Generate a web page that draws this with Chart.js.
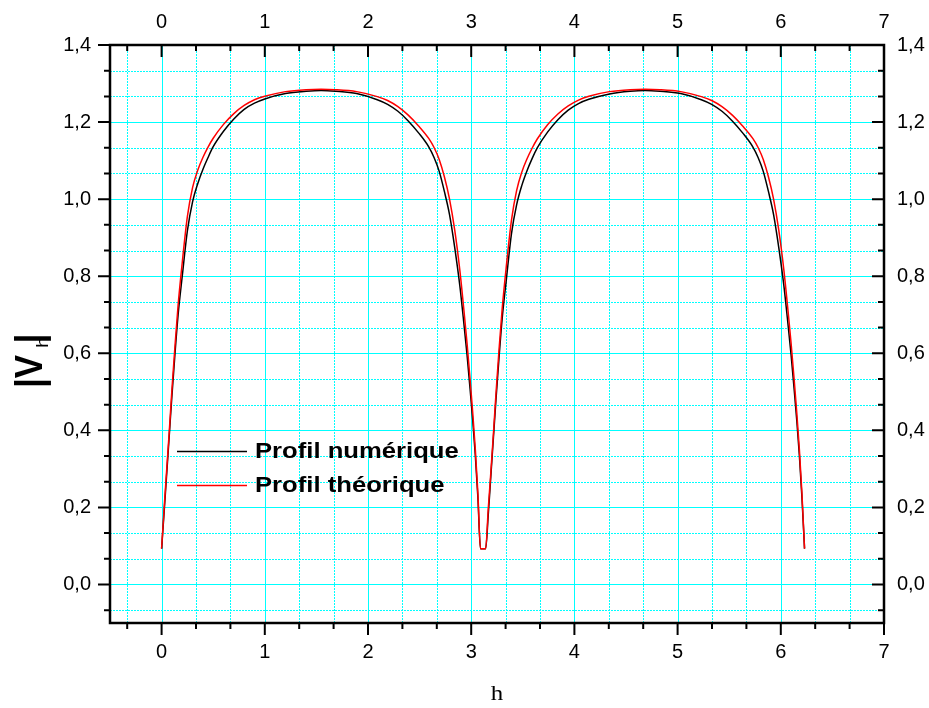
<!DOCTYPE html>
<html>
<head>
<meta charset="utf-8">
<script src="https://cdn.jsdelivr.net/npm/chart.js@4.4.0/dist/chart.umd.min.js"></script>
<style>
  html, body { margin: 0; padding: 0; background: #ffffff; }
  #wrap { width: 929px; height: 708px; }
</style>
</head>
<body>
<div id="wrap"><canvas id="chart" width="929" height="708"></canvas></div>
<script>
// Abscissa h of every sample (two humps, flat bottom between 3.09 and 3.14)
const hValues = [
  0, 0.025, 0.05, 0.075, 0.1, 0.13, 0.16, 0.2, 0.25, 0.3, 0.35, 0.4, 0.45, 0.5, 0.6, 0.7, 0.8, 0.9, 1.0, 1.2, 1.4, 1.545,
  1.69, 1.89, 2.09, 2.19, 2.29, 2.39, 2.49, 2.59, 2.64, 2.69, 2.74, 2.79, 2.84, 2.89, 2.93, 2.96, 2.99, 3.015, 3.04, 3.065, 3.09,
  3.14, 3.165, 3.19, 3.215, 3.24, 3.27, 3.30, 3.34, 3.39, 3.44, 3.49, 3.54, 3.59, 3.64, 3.74, 3.84, 3.94, 4.04, 4.14, 4.34, 4.54, 4.685,
  4.83, 5.03, 5.23, 5.33, 5.43, 5.53, 5.63, 5.73, 5.78, 5.83, 5.88, 5.93, 5.98, 6.03, 6.07, 6.10, 6.13, 6.155, 6.18, 6.205, 6.23
];

// |V_h| from the numerical solution
const profilNumerique = [
  0.093, 0.19, 0.29, 0.39, 0.49, 0.60, 0.70, 0.80, 0.918, 0.993, 1.040, 1.077, 1.108, 1.136, 1.176, 1.208, 1.233, 1.249, 1.260, 1.274, 1.280, 1.282,
  1.280, 1.274, 1.258, 1.246, 1.228, 1.203, 1.172, 1.135, 1.108, 1.072, 1.020, 0.960, 0.875, 0.775, 0.675, 0.595, 0.505, 0.425, 0.335, 0.225, 0.093,
  0.093, 0.18, 0.28, 0.38, 0.48, 0.59, 0.69, 0.79, 0.91, 0.985, 1.035, 1.073, 1.105, 1.133, 1.174, 1.206, 1.231, 1.248, 1.259, 1.273, 1.280, 1.282,
  1.280, 1.274, 1.258, 1.246, 1.228, 1.203, 1.172, 1.135, 1.108, 1.072, 1.020, 0.960, 0.875, 0.775, 0.675, 0.595, 0.505, 0.425, 0.335, 0.225, 0.093
];

// |V_h| from the theoretical profile
const profilTheorique = [
  0.093, 0.20, 0.30, 0.40, 0.505, 0.62, 0.725, 0.835, 0.955, 1.030, 1.075, 1.108, 1.135, 1.158, 1.194, 1.222, 1.243, 1.258, 1.267, 1.279, 1.284, 1.285,
  1.284, 1.279, 1.266, 1.256, 1.240, 1.218, 1.190, 1.157, 1.134, 1.103, 1.058, 1.000, 0.920, 0.815, 0.710, 0.625, 0.530, 0.445, 0.350, 0.235, 0.093,
  0.093, 0.195, 0.29, 0.39, 0.495, 0.61, 0.715, 0.825, 0.945, 1.022, 1.070, 1.104, 1.132, 1.156, 1.193, 1.221, 1.242, 1.257, 1.267, 1.279, 1.284, 1.285,
  1.284, 1.279, 1.266, 1.256, 1.240, 1.218, 1.190, 1.157, 1.134, 1.103, 1.058, 1.000, 0.920, 0.815, 0.710, 0.625, 0.530, 0.445, 0.350, 0.235, 0.093
];

const seriesNames = ['Profil numérique', 'Profil théorique'];
const seriesColors = ['#000000', '#ff0000'];
const xTickValues = [0, 1, 2, 3, 4, 5, 6, 7];
const yTickValues = [0, 0.2, 0.4, 0.6, 0.8, 1.0, 1.2, 1.4];
const xTitle = 'h';

const X_MIN = -0.5, X_MAX = 7, Y_MIN = -0.1, Y_MAX = 1.4;
const TICK_FONT = { family: '"Liberation Sans", Arial, sans-serif', size: 20 };

function toPoints(values) {
  return hValues.map((h, i) => ({ x: h, y: values[i] }));
}

function minorValues(majors, min, max, parts) {
  const major = majors[1] - majors[0];
  const out = [];
  for (let m = majors[0] - major; m <= majors[majors.length - 1] + 1e-9; m += major) {
    for (let k = 1; k < parts; k++) {
      const v = m + k * major / parts;
      if (v > min + 1e-9 && v < max - 1e-9) out.push(v);
    }
  }
  return out;
}

const fmtY = v => v.toFixed(1).replace('.', ',');
const fmtX = v => String(Math.round(v));

function axisCommon(min, max, values, fmt, fitFn, pad) {
  return {
    type: 'linear', min: min, max: max,
    afterBuildTicks: s => { s.ticks = values.map(v => ({ value: v })); },
    afterFit: fitFn,
    grid: { display: false, drawTicks: false },
    border: { display: false },
    ticks: {
      font: TICK_FONT, color: '#000000', padding: pad,
      autoSkip: false, maxRotation: 0, minRotation: 0,
      callback: v => fmt(v)
    }
  };
}

// Cyan grid, black frame with Origin-style ticks, legend and axis titles
const framePlugin = {
  id: 'originFrame',
  beforeDatasetsDraw(chart) {
    const { ctx, chartArea: a } = chart;
    const sx = chart.scales.x, sy = chart.scales.y;
    ctx.save();
    ctx.strokeStyle = '#00ffff';
    ctx.lineWidth = 1;
    ctx.setLineDash([2, 1]);
    minorValues(xTickValues, X_MIN, X_MAX, 3).forEach(v => {
      const p = Math.round(sx.getPixelForValue(v)) + 0.5;
      ctx.beginPath(); ctx.moveTo(p, a.top); ctx.lineTo(p, a.bottom); ctx.stroke();
    });
    minorValues(yTickValues, Y_MIN, Y_MAX, 3).forEach(v => {
      const p = Math.round(sy.getPixelForValue(v)) + 0.5;
      ctx.beginPath(); ctx.moveTo(a.left, p); ctx.lineTo(a.right, p); ctx.stroke();
    });
    ctx.setLineDash([]);
    xTickValues.forEach(v => {
      const p = Math.round(sx.getPixelForValue(v)) + 0.5;
      ctx.beginPath(); ctx.moveTo(p, a.top); ctx.lineTo(p, a.bottom); ctx.stroke();
    });
    yTickValues.forEach(v => {
      const p = Math.round(sy.getPixelForValue(v)) + 0.5;
      ctx.beginPath(); ctx.moveTo(a.left, p); ctx.lineTo(a.right, p); ctx.stroke();
    });
    ctx.restore();
  },
  afterDatasetsDraw(chart) {
    const { ctx, chartArea: a } = chart;
    const sx = chart.scales.x, sy = chart.scales.y;
    ctx.save();
    ctx.strokeStyle = '#000000';
    ctx.lineWidth = 2;
    const MAJ = 12, MIN = 6;
    xTickValues.forEach(v => {
      const p = sx.getPixelForValue(v);
      ctx.beginPath();
      ctx.moveTo(p, a.bottom); ctx.lineTo(p, a.bottom + MAJ);
      ctx.moveTo(p, a.top); ctx.lineTo(p, a.top + MAJ);
      ctx.stroke();
    });
    minorValues(xTickValues, X_MIN, X_MAX, 3).forEach(v => {
      const p = sx.getPixelForValue(v);
      ctx.beginPath();
      ctx.moveTo(p, a.bottom); ctx.lineTo(p, a.bottom + MIN);
      ctx.moveTo(p, a.top); ctx.lineTo(p, a.top + MIN);
      ctx.stroke();
    });
    yTickValues.forEach(v => {
      const p = sy.getPixelForValue(v);
      ctx.beginPath();
      ctx.moveTo(a.left - MAJ, p); ctx.lineTo(a.left, p);
      ctx.moveTo(a.right - MAJ, p); ctx.lineTo(a.right, p);
      ctx.stroke();
    });
    minorValues(yTickValues, Y_MIN, Y_MAX, 3).forEach(v => {
      const p = sy.getPixelForValue(v);
      ctx.beginPath();
      ctx.moveTo(a.left - MIN, p); ctx.lineTo(a.left, p);
      ctx.moveTo(a.right - MIN, p); ctx.lineTo(a.right, p);
      ctx.stroke();
    });
    ctx.lineWidth = 2.5;
    ctx.strokeRect(a.left, a.top, a.right - a.left, a.bottom - a.top);

    // legend
    const legendRows = [451, 485];
    chart.data.datasets.forEach((ds, i) => {
      const y = legendRows[i];
      ctx.strokeStyle = ds.borderColor;
      ctx.lineWidth = 1.5;
      ctx.beginPath(); ctx.moveTo(177, y + 0.5); ctx.lineTo(247, y + 0.5); ctx.stroke();
      ctx.save();
      ctx.translate(255, y + 6.5);
      ctx.scale(1.14, 1);
      ctx.fillStyle = '#000000';
      ctx.font = 'bold 22.5px "Liberation Sans", Arial, sans-serif';
      ctx.textBaseline = 'alphabetic';
      ctx.fillText(ds.label, 0, 0);
      ctx.restore();
    });

    // x title
    ctx.save();
    ctx.translate((a.left + a.right) / 2, 700);
    ctx.scale(1.13, 1);
    ctx.fillStyle = '#000000';
    ctx.font = '22px "Liberation Serif", "Times New Roman", serif';
    ctx.textAlign = 'center';
    ctx.textBaseline = 'alphabetic';
    ctx.fillText(xTitle, 0, 0);
    ctx.restore();

    // y title |V_h|
    ctx.save();
    ctx.translate(42, 388);
    ctx.rotate(-Math.PI / 2);
    ctx.scale(1, 1.13);
    ctx.fillStyle = '#000000';
    ctx.textBaseline = 'alphabetic';
    ctx.font = 'bold 35px "Liberation Sans", Arial, sans-serif';
    ctx.fillText('|V', 0, 0);
    ctx.fillText('|', 44.6, 0);
    ctx.save();
    ctx.translate(40, 5.3);
    ctx.scale(1.5, 1);
    ctx.font = '14px "Liberation Sans", Arial, sans-serif';
    ctx.fillText('h', 0, 0);
    ctx.restore();
    ctx.restore();

    ctx.restore();
  }
};

new Chart(document.getElementById('chart'), {
  type: 'line',
  data: {
    datasets: [
      {
        label: seriesNames[0], data: toPoints(profilNumerique),
        borderColor: seriesColors[0], borderWidth: 1.5, pointRadius: 0,
        cubicInterpolationMode: 'monotone', fill: false, order: 1
      },
      {
        label: seriesNames[1], data: toPoints(profilTheorique),
        borderColor: seriesColors[1], borderWidth: 1.5, pointRadius: 0,
        cubicInterpolationMode: 'monotone', fill: false, order: 0
      }
    ]
  },
  options: {
    responsive: false,
    animation: false,
    devicePixelRatio: 1,
    events: [],
    layout: { padding: 0 },
    plugins: { legend: { display: false }, tooltip: { enabled: false } },
    scales: {
      x: Object.assign(axisCommon(X_MIN, X_MAX, xTickValues, fmtX, s => { s.height = 85; }, 17), { position: 'bottom' }),
      x2: Object.assign(axisCommon(X_MIN, X_MAX, xTickValues, fmtX, s => { s.height = 45; }, 11), { position: 'top' }),
      y: Object.assign(axisCommon(Y_MIN, Y_MAX, yTickValues, fmtY, s => { s.width = 110; }, 19), { position: 'left' }),
      y2: Object.assign(axisCommon(Y_MIN, Y_MAX, yTickValues, fmtY, s => { s.width = 45; }, 13), { position: 'right' })
    }
  },
  plugins: [framePlugin]
});
</script>
</body>
</html>
